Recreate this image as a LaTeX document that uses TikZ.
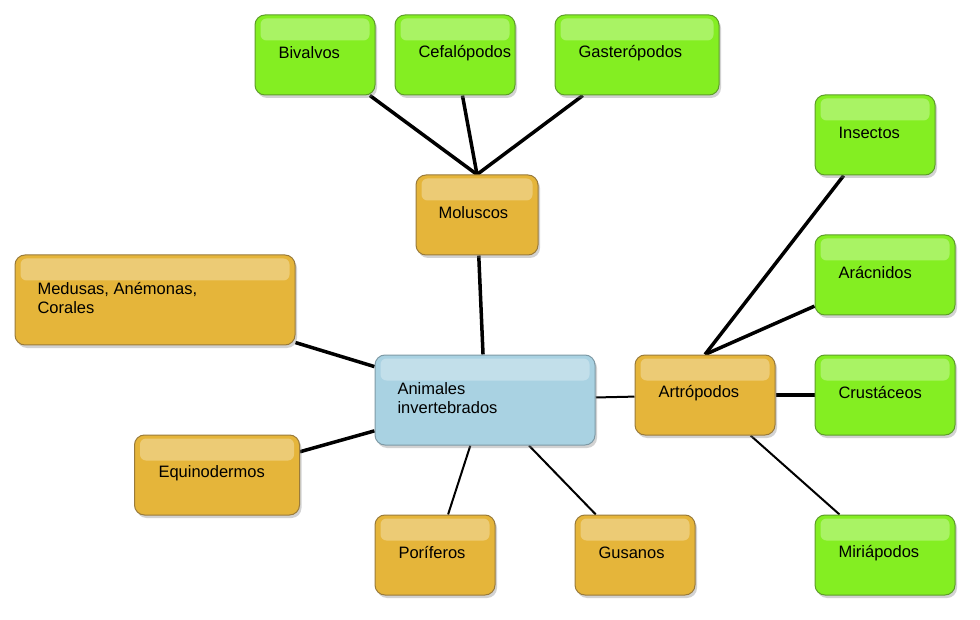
\documentclass[tikz,border=0pt]{standalone}
\usepackage{fontspec}
\setmainfont{Liberation Sans}
\usetikzlibrary{shadows,calc,backgrounds}
\definecolor{gr}{HTML}{84EE22}
\definecolor{grb}{HTML}{5E9E2A}
\definecolor{or}{HTML}{E5B53A}
\definecolor{orb}{HTML}{9A7B3A}
\definecolor{bl}{HTML}{A9D2E2}
\definecolor{blb}{HTML}{7E9AA6}
\tikzset{
  box/.style={rectangle,rounded corners=10pt,line width=1pt,
    drop shadow={shadow xshift=2pt,shadow yshift=-3pt,opacity=.35},inner sep=0pt},
  gbox/.style={box,fill=gr,draw=grb},
  obox/.style={box,fill=or,draw=orb},
  bbox/.style={box,fill=bl,draw=blb},
  lbl/.style={font=\fontsize{16.5}{18.5}\selectfont,align=left,anchor=west},
  ln/.style={line width=3.5pt},
  lnt/.style={line width=2pt}
}
\newcommand{\mkbox}[6]{%
  \node[#6,minimum width=#4pt,minimum height=#5pt] (#1) at (#2,#3) {};
  \fill[white,opacity=.3,rounded corners=6pt] ($(#1.north west)+(6,4)$) rectangle ($(#1.north east)+(-6,26)$);
}
\begin{document}
\begin{tikzpicture}[x=1pt,y=-1pt]
\useasboundingbox (0,0) rectangle (980,620);
\mkbox{biv}{315}{55}{120}{80}{gbox}
\mkbox{cef}{455}{55}{120}{80}{gbox}
\mkbox{gas}{637}{55}{164}{80}{gbox}
\mkbox{mol}{477}{215}{122}{80}{obox}
\mkbox{ins}{875}{135}{120}{80}{gbox}
\mkbox{ara}{885}{275}{140}{80}{gbox}
\mkbox{cru}{885}{395}{140}{80}{gbox}
\mkbox{mir}{885}{555}{140}{80}{gbox}
\mkbox{art}{705}{395}{140}{80}{obox}
\mkbox{ani}{485}{400}{220}{90}{bbox}
\mkbox{med}{155}{300}{280}{90}{obox}
\mkbox{equ}{217}{475}{165}{80}{obox}
\mkbox{por}{435}{555}{120}{80}{obox}
\mkbox{gus}{635}{555}{120}{80}{obox}
\node[lbl] (tbiv) at (275,53) {Bivalvos};
\node[lbl] (tcef) at (415,53) {Cefalópodos};
\node[lbl] (tgas) at (575,53) {Gasterópodos};
\node[lbl] (tmol) at (435,213) {Moluscos};
\node[lbl] (tins) at (835,133) {Insectos};
\node[lbl] (tara) at (835,273) {Arácnidos};
\node[lbl] (tcru) at (835,393) {Crustáceos};
\node[lbl] (tmir) at (835,553) {Miriápodos};
\node[lbl] (tart) at (655,393) {Artrópodos};
\node[lbl] (tani) at (394,398) {Animales\\invertebrados};
\node[lbl] (tmed) at (34,298) {Medusas, Anémonas,\\Corales};
\node[lbl] (tequ) at (155,473) {Equinodermos};
\node[lbl] (tpor) at (395,553) {Poríferos};
\node[lbl] (tgus) at (595,553) {Gusanos};
\begin{pgfonlayer}{background}
\fill[white] (0,0) rectangle (980,620);
\draw[ln] (biv) -- (mol.north);
\draw[ln] (cef) -- (mol.north);
\draw[ln] (gas) -- (mol.north);
\draw[ln] (mol) -- (ani);
\draw[ln] (med) -- (ani);
\draw[ln] (equ) -- (ani);
\draw[lnt] (por) -- (ani);
\draw[lnt] (gus) -- (ani);
\draw[lnt] (ani) -- (art);
\draw[ln] (art.north) -- (ins);
\draw[ln] (art.north) -- (ara);
\draw[ln] (art) -- (cru);
\draw[lnt] (art) -- (mir);
\end{pgfonlayer}
\end{tikzpicture}
\end{document}
